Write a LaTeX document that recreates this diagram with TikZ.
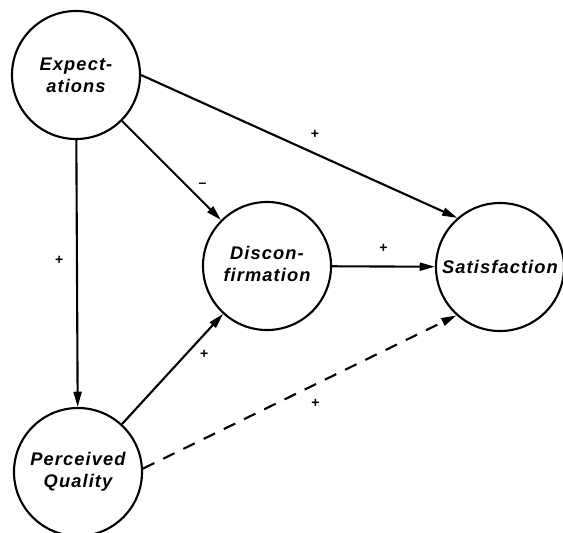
\documentclass[tikz,border=0pt]{standalone}
\usepackage{fontspec}
\usepackage{tikz}
\usetikzlibrary{arrows.meta}
\usetikzlibrary{calc}

\newfontfamily\lblfont[LetterSpace=6]{Liberation Sans}

\begin{document}
\begin{tikzpicture}[x=0.025cm,y=-0.025cm,
	>={Triangle[length=0.38cm,width=0.2cm]},
	sign/.style={font=\lblfont\bfseries, inner sep=1pt}]
		\useasboundingbox (0,0) rectangle (563,532);

		\begin{scope}[every node/.style={circle, draw, line width=1.5pt, minimum size=3.2cm, inner sep=0pt, align=center, font=\lblfont\bfseries\itshape\fontsize{13}{15.5}\selectfont}]
		\node (exp) at (76, 75) {Expect-\\ations};
		\node (disc) at (267, 266) {\raisebox{4pt}{\begin{tabular}{@{}c@{}}Discon-\\firmation\end{tabular}}};
		\node (sat) at (500, 267) {Satisfaction};
		\node (pq) at (78, 472) {\raisebox{-4pt}{\begin{tabular}{@{}c@{}}Perceived\\Quality\end{tabular}}};
		\end{scope}

		\begin{scope}[line width=1.5pt]
			%% solid arrows
			\draw[->] (exp) -- node[sign, pos=0.45, left=8pt] {+} (pq);
			\draw[->] (exp) -- node[sign, pos=0.72, above right=2pt] {\textendash} (disc);
			\draw[->] (exp.0) -- node[sign, pos=0.55, above=9pt] {+} (sat.131);
			\draw[->] (disc) -- node[sign, above=8pt] {+} (sat);
			\draw[->] (pq) -- node[sign, pos=0.72, below right=2pt] {+} (disc);

			%% dashed one
			\draw[->, dash pattern=on 9pt off 7pt] (pq.3) -- node[sign, pos=0.55, below=9pt] {+} (sat.-132);
		\end{scope}

	\end{tikzpicture}
\end{document}
